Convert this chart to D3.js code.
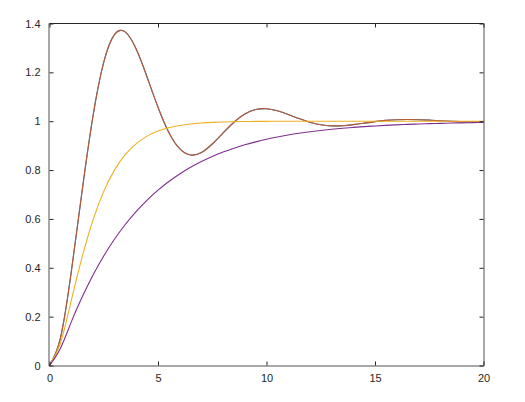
<!DOCTYPE html>
<html lang="en">
<head>
<meta charset="utf-8">
<title>Step responses</title>
<script src="https://d3js.org/d3.v7.min.js"></script>
<style>
  body { margin: 0; background: #fff; }
  .tick text { font: 11px "Liberation Sans", Arial, sans-serif; fill: #262626; }
  .line { fill: none; stroke-width: 1.1; }
</style>
</head>
<body>
<div id="chart"></div>
<script>
// sample times (s)
var times = [0, 0.5, 1, 1.5, 2, 2.5, 3, 3.5, 4, 4.5, 5, 5.5, 6, 6.5, 7, 7.5, 8, 8.5, 9, 9.5,
             10, 10.5, 11, 11.5, 12, 12.5, 13, 13.5, 14, 14.5, 15, 15.5, 16, 16.5, 17, 17.5,
             18, 18.5, 19, 19.5, 20];

// underdamped response (drawn twice, blue then orange on top)
var under = [0, 0.1111, 0.3814, 0.7125, 1.0186, 1.2415, 1.3555, 1.3647, 1.2944, 1.1801,
             1.0573, 0.9542, 0.8875, 0.8619, 0.8721, 0.9068, 0.9522, 0.9959, 1.0292, 1.0476,
             1.0513, 1.0431, 1.0279, 1.0108, 0.9958, 0.9856, 0.9811, 0.9817, 0.9861, 0.9923,
             0.9985, 1.0034, 1.0063, 1.0072, 1.0063, 1.0043, 1.0019, 0.9997, 0.9982, 0.9974,
             0.9974];

// critically damped response (yellow)
var critical = [0, 0.0902, 0.2642, 0.4422, 0.5940, 0.7127, 0.8009, 0.8641, 0.9084, 0.9389,
                0.9596, 0.9734, 0.9826, 0.9887, 0.9927, 0.9953, 0.9970, 0.9981, 0.9988, 0.9992,
                0.9995, 0.9997, 0.9998, 0.9999, 0.9999, 1, 1, 1, 1, 1,
                1, 1, 1, 1, 1, 1, 1, 1, 1, 1,
                1];

// overdamped response (purple)
var over = [0, 0.0697, 0.1777, 0.2795, 0.3696, 0.4486, 0.5178, 0.5782, 0.6311, 0.6774,
            0.7178, 0.7532, 0.7841, 0.8112, 0.8349, 0.8556, 0.8737, 0.8895, 0.9034, 0.9155,
            0.9261, 0.9354, 0.9435, 0.9506, 0.9568, 0.9622, 0.9669, 0.9711, 0.9747, 0.9779,
            0.9806, 0.9831, 0.9852, 0.9870, 0.9887, 0.9901, 0.9913, 0.9924, 0.9934, 0.9942,
            0.9949];

var xTicks = [0, 5, 10, 15, 20];
var yTicks = [0, 0.2, 0.4, 0.6, 0.8, 1, 1.2, 1.4];

var series = [
  {values: under, color: "#0072BD", opacity: 1},
  {values: under, color: "#D95319", opacity: 0.88},
  {values: critical, color: "#EDB120", opacity: 1},
  {values: over, color: "#7E2F8E", opacity: 1}
];

var W = 525, H = 402;
var margin = {top: 23.5, right: 41.5, bottom: 36.5, left: 49.5};
var width = W - margin.left - margin.right,
    height = H - margin.top - margin.bottom;

var svg = d3.select("#chart").append("svg")
    .attr("width", W)
    .attr("height", H);

var g = svg.append("g")
    .attr("transform", "translate(" + margin.left + "," + margin.top + ")");

var x = d3.scaleLinear().domain([0, 20]).range([0, width]);
var y = d3.scaleLinear().domain([0, 1.4]).range([height, 0]);

// curves
var line = d3.line()
    .x(function(d, i) { return x(times[i]); })
    .y(function(d) { return y(d); })
    .curve(d3.curveNatural);

series.forEach(function(s) {
  g.append("path")
    .datum(s.values)
    .attr("class", "line")
    .attr("stroke", s.color)
    .attr("stroke-opacity", s.opacity)
    .attr("d", line);
});

// axes, ticks inward on all four sides
function styleAxis(sel, showText) {
  sel.select(".domain").remove();
  sel.selectAll(".tick line").attr("stroke", "#262626");
  if (!showText) sel.selectAll(".tick text").remove();
}

g.append("g")
  .attr("transform", "translate(0," + height + ")")
  .call(d3.axisBottom(x).tickValues(xTicks).tickSizeInner(-4).tickSizeOuter(0).tickPadding(9)
        .tickFormat(d3.format("d")))
  .call(styleAxis, true);

g.append("g")
  .call(d3.axisTop(x).tickValues(xTicks).tickSizeInner(-4).tickSizeOuter(0))
  .call(styleAxis, false);

g.append("g")
  .call(d3.axisLeft(y).tickValues(yTicks).tickSizeInner(-4).tickSizeOuter(0).tickPadding(9)
        .tickFormat(function(d) { return d3.format("")(+d.toFixed(1)); }))
  .call(styleAxis, true);

g.append("g")
  .attr("transform", "translate(" + width + ",0)")
  .call(d3.axisRight(y).tickValues(yTicks).tickSizeInner(-4).tickSizeOuter(0))
  .call(styleAxis, false);

// box
g.append("line").attr("x1", 0).attr("x2", width).attr("y1", 0).attr("y2", 0)
  .attr("stroke", "#262626");
g.append("line").attr("x1", -0.5).attr("x2", -0.5).attr("y1", 0).attr("y2", height + 0.5)
  .attr("stroke", "#262626").attr("stroke-opacity", 0.8);
g.append("line").attr("x1", width + 0.5).attr("x2", width + 0.5).attr("y1", 0).attr("y2", height + 0.5)
  .attr("stroke", "#262626").attr("stroke-opacity", 0.8);
g.append("line").attr("x1", -0.5).attr("x2", width + 0.5).attr("y1", height + 0.5).attr("y2", height + 0.5)
  .attr("stroke", "#262626").attr("stroke-opacity", 0.8);
</script>
</body>
</html>
